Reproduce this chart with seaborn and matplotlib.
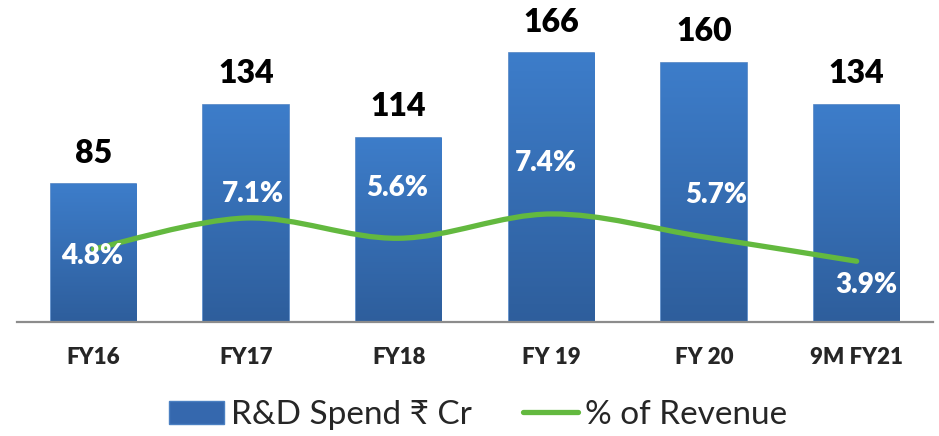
import numpy as np
import matplotlib
matplotlib.use("Agg")
import matplotlib.pyplot as plt
from matplotlib.path import Path
from matplotlib.patches import PathPatch, Patch
from matplotlib.lines import Line2D
from matplotlib.colors import LinearSegmentedColormap
import seaborn as sns

# data
years = ["FY16", "FY17", "FY18", "FY 19", "FY 20", "9M FY21"]
rd_spend = [85, 134, 114, 166, 160, 134]          # R&D spend, Rs Cr
pct_revenue = [4.8, 7.1, 5.6, 7.4, 5.7, 3.9]      # % of revenue
pct_labels = ["4.8%", "7.1%", "5.6%", "7.4%", "5.7%", "3.9%"]

# where the % labels sit relative to the line points (points)
label_offsets = [(-1, -5), (5, 17), (-1, 36), (-4, 37), (9, 30), (7, -17)]

sns.set_style("white")
plt.rcParams["font.family"] = ["Lato", "Noto Sans", "DejaVu Sans"]

fig = plt.figure(figsize=(9.39, 4.36), dpi=100)
ax = fig.add_axes([17 / 939, 114 / 436, 916 / 939, 310.6 / 436])

sns.barplot(x=years, y=rd_spend, color="#3568AE", saturation=1, width=0.56,
            ax=ax, zorder=2)

# gradient fill on bars (light blue on top, darker at bottom)
cmap = LinearSegmentedColormap.from_list("bar", ["#3D7DCA", "#2E5E9C"])
grad = np.linspace(0, 1, 256).reshape(-1, 1)
for p in list(ax.patches):
    x0, w, h = p.get_x(), p.get_width(), p.get_height()
    p.set_edgecolor("#4B80C2")
    p.set_linewidth(1.2)
    im = ax.imshow(grad, extent=[x0, x0 + w, 0, h], aspect="auto", cmap=cmap,
                   origin="upper", zorder=2.5)
    im.set_clip_path(p)
ax.set_xlim(-0.5, 5.5)
ax.set_ylim(0, 192)

# value labels above bars
for i, v in enumerate(rd_spend):
    ax.annotate(str(v), xy=(i, v), xytext=(0, 22.5), textcoords="offset points",
                ha="center", va="center", fontsize=23, fontweight="heavy",
                color="black")

# axis styling
for s in ["top", "left", "right"]:
    ax.spines[s].set_visible(False)
ax.spines["bottom"].set_color("#8C8C8C")
ax.spines["bottom"].set_linewidth(1.6)
ax.set_yticks([])
ax.set_xticks(range(len(years)))
ax.set_xticklabels(years, fontsize=16, fontweight="heavy")
ax.set_xticks(np.arange(-0.5, 6, 1), minor=True)
ax.tick_params(axis="x", which="major", length=0, pad=18)
ax.tick_params(axis="x", which="minor", length=5.5, width=1.6, color="#8C8C8C",
               direction="out")
ax.set_xlabel("")
ax.set_ylabel("")

# secondary axis: smoothed % of revenue line
ax2 = ax.twinx()
ax2.set_ylim(-0.6, 22.4)
ax2.set_xlim(-0.5, 5.5)
ax2.axis("off")

xs = np.arange(len(pct_revenue), dtype=float)
ys = np.array(pct_revenue, dtype=float)
verts = [(xs[0], ys[0])]
codes = [Path.MOVETO]
n = len(xs)
for i in range(n - 1):
    xp, yp = (xs[i - 1], ys[i - 1]) if i > 0 else (xs[i], ys[i])
    xn2, yn2 = (xs[i + 2], ys[i + 2]) if i + 2 < n else (xs[i + 1], ys[i + 1])
    c1 = (xs[i] + (xs[i + 1] - xp) / 6, ys[i] + (ys[i + 1] - yp) / 6)
    c2 = (xs[i + 1] - (xn2 - xs[i]) / 6, ys[i + 1] - (yn2 - ys[i]) / 6)
    verts += [c1, c2, (xs[i + 1], ys[i + 1])]
    codes += [Path.CURVE4] * 3
line = PathPatch(Path(verts, codes), facecolor="none", edgecolor="#63B93F",
                 linewidth=3.8, capstyle="round", zorder=3)
ax2.add_patch(line)

for i, (v, lab) in enumerate(zip(pct_revenue, pct_labels)):
    dx, dy = label_offsets[i]
    ax2.annotate(lab, xy=(i, v), xytext=(dx, dy), textcoords="offset points",
                 ha="center", va="center", fontsize=20, fontweight="heavy",
                 color="white", zorder=4)

# legend
handles = [Patch(facecolor="#3568AE", edgecolor="#4B80C2"),
           Line2D([0], [0], color="#63B93F", lw=3.8, solid_capstyle="round")]
fig.legend(handles, ["R&D Spend \u20b9 Cr", "% of Revenue"], loc="center",
           bbox_to_anchor=(0.509, 0.048), ncol=2, frameon=False, fontsize=24,
           handlelength=1.65, handleheight=0.7, handletextpad=0.2,
           columnspacing=1.55, borderaxespad=0, borderpad=0)

plt.savefig("out.png", dpi=100)
